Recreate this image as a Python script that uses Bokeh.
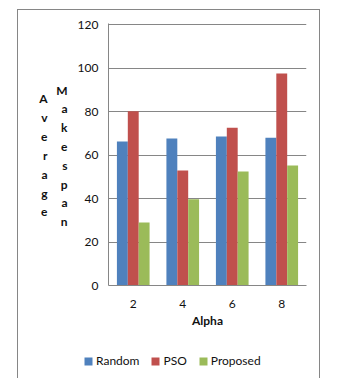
from bokeh.plotting import figure
from bokeh.models import (ColumnDataSource, FactorRange, Range1d, FixedTicker, Legend, LegendItem,
                          LinearAxis)
from bokeh.layouts import column
from bokeh.transform import dodge
from bokeh.embed import file_html
from bokeh.resources import INLINE

alpha = ["2", "4", "6", "8"]
random_vals = [66.2, 67.6, 68.5, 68.0]
pso_vals = [80.1, 52.9, 72.6, 97.5]
proposed_vals = [29.0, 39.7, 52.4, 55.2]
series_names = ["Random", "PSO", "Proposed"]
y_ticks = [0, 20, 40, 60, 80, 100, 120]
y_title_words = ["Average", "Makespan"]

colors = ["#4F81BD", "#C0504D", "#9BBB59"]
FONT = "Lato"
GREY = "#868686"
TXT = "#111111"
BORDER = "1px solid #868686"

# canvases sit inside a bordered box whose inner top-left is (18, 10) of the page
OX, OY = 18, 10
CW = 303
H_MAIN, H_LEG = 329, 40
FRAME_L, FRAME_R, FRAME_T, FRAME_B = 108, 306, 23, 285  # page coords

src = ColumnDataSource(dict(alpha=alpha, Random=random_vals, PSO=pso_vals, Proposed=proposed_vals))

p = figure(width=CW, height=H_MAIN, x_range=FactorRange(factors=alpha), y_range=Range1d(0, 120.5),
           output_backend="svg", toolbar_location=None,
           min_border_left=FRAME_L - OX, min_border_right=OX + CW - FRAME_R,
           min_border_top=FRAME_T - OY, min_border_bottom=OY + H_MAIN - FRAME_B)
p.frame_align = False
p.outline_line_color = None
p.background_fill_color = "white"
p.border_fill_color = "white"
p.styles = {"border-top": BORDER, "border-left": BORDER, "border-right": BORDER}

bw = 0.22
offsets = [-bw, 0.0, bw]
for name, off, c in zip(series_names, offsets, colors):
    p.vbar(x=dodge("alpha", off, range=p.x_range), top=name, width=bw, source=src,
           fill_color=c, line_color=None)

# main axes
p.yaxis.ticker = FixedTicker(ticks=y_ticks)
p.yaxis.axis_line_color = GREY
p.yaxis.major_tick_line_color = None
p.yaxis.major_tick_out = 0
p.yaxis.major_tick_in = 0
p.yaxis.minor_tick_line_color = None
p.yaxis.major_label_standoff = 10
p.yaxis.major_label_text_font = FONT
p.yaxis.major_label_text_font_size = "12px"
p.yaxis.major_label_text_color = TXT

p.xaxis.axis_line_color = GREY
p.xaxis.major_tick_line_color = None
p.xaxis.major_tick_out = 0
p.xaxis.major_tick_in = 0
p.xaxis.minor_tick_line_color = None
p.xaxis.major_label_standoff = 14
p.xaxis.major_label_text_font = FONT
p.xaxis.major_label_text_font_size = "12px"
p.xaxis.major_label_text_color = TXT
p.xaxis.axis_label = "Alpha"
p.xaxis.axis_label_text_font = FONT
p.xaxis.axis_label_text_font_size = "12px"
p.xaxis.axis_label_text_font_style = "bold"
p.xaxis.axis_label_text_color = TXT
p.xaxis.axis_label_standoff = 2

p.xgrid.grid_line_color = None
p.ygrid.grid_line_color = GREY
p.ygrid.grid_line_width = 1

# stacked-letter y title: one letter axis per word (letters as tick labels)
layout = {"Makespan": (89.5, 18.8, 7), "Average": (98.0, 18.9, 6)}
for word in reversed(y_title_words):
    y0, step, standoff = layout[word]
    key = "letters_" + word
    p.extra_y_ranges[key] = Range1d(start=(FRAME_B - y0) / step, end=(FRAME_T - y0) / step)
    ax = LinearAxis(y_range_name=key, ticker=FixedTicker(ticks=list(range(len(word)))),
                    major_label_overrides={i: ch for i, ch in enumerate(word)},
                    axis_line_color=None, major_tick_line_color=None, minor_tick_line_color=None,
                    major_tick_out=0, major_tick_in=0,
                    major_label_standoff=standoff, major_label_text_font=FONT,
                    major_label_text_font_size="12px", major_label_text_font_style="bold",
                    major_label_text_color=TXT)
    p.add_layout(ax, "left")

# legend strip below the chart
lf = figure(width=CW, height=H_LEG, x_range=Range1d(0, 1), y_range=Range1d(0, 1),
            output_backend="svg", toolbar_location=None, x_axis_location=None,
            y_axis_location=None, min_border=0)
lf.frame_align = False
lf.outline_line_color = None
lf.grid.visible = False
lf.background_fill_color = "white"
lf.border_fill_color = "white"
lf.styles = {"border-left": BORDER, "border-right": BORDER}
# swatch renderers sit outside the visible range; they only feed the legend
swatches = [lf.vbar(x=[-10], top=[-10], width=0.1, fill_color=c, line_color=None) for c in colors]

legend = Legend(items=[LegendItem(label=n, renderers=[r]) for n, r in zip(series_names, swatches)],
                orientation="horizontal", location=(65, 10), padding=0, margin=0, spacing=11,
                label_standoff=3, glyph_width=10, glyph_height=10, label_height=12,
                label_text_font=FONT, label_text_font_size="12px", label_text_color=TXT,
                border_line_color=None, background_fill_alpha=0)
lf.add_layout(legend, "center")

root = column(p, lf, spacing=0, margin=(9, 0, 0, 17))

open("out.html", "w").write(file_html(root, INLINE))
